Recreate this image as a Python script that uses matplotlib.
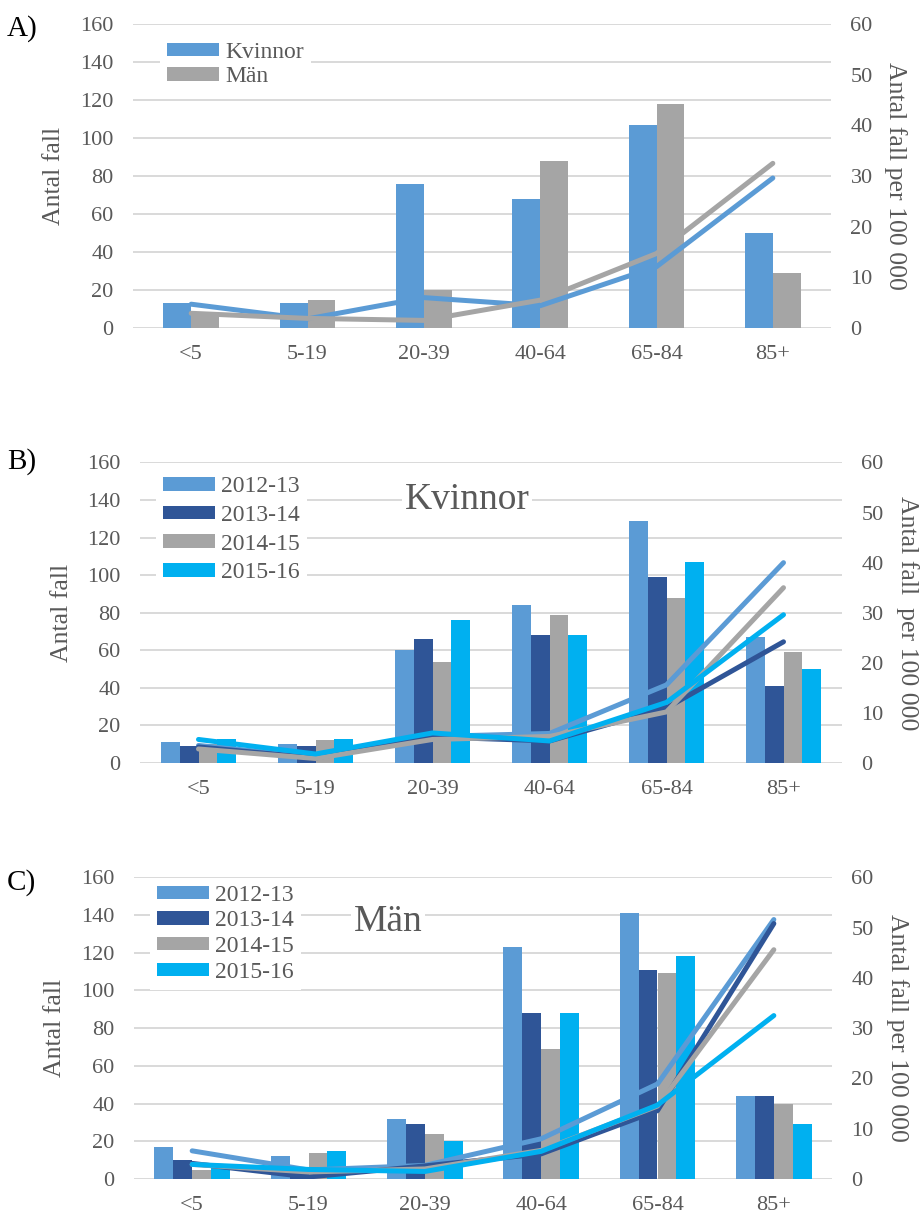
import numpy as np
import matplotlib
matplotlib.use('Agg')
import matplotlib.pyplot as plt
from matplotlib.patches import Patch

plt.rcParams['font.family'] = ['Liberation Serif', 'DejaVu Serif']

# Data
aldersgrupper = ['<5', '5-19', '20-39', '40-64', '65-84', '85+']
ar = ['2012-13', '2013-14', '2014-15', '2015-16']

# A) alla år, kvinnor och män
kvinnor_fall = [13, 13, 76, 68, 107, 50]
man_fall = [7, 15, 20, 88, 118, 29]
kvinnor_inc = [4.7, 1.8, 6.0, 4.4, 12.1, 29.6]
man_inc = [2.9, 1.9, 1.5, 5.5, 14.7, 32.5]

# B) kvinnor per säsong
kv_fall_2012 = [11, 10, 60, 84, 129, 67]
kv_fall_2013 = [9, 9, 66, 68, 99, 41]
kv_fall_2014 = [10, 12, 54, 79, 88, 59]
kv_fall_2015 = [13, 13, 76, 68, 107, 50]
kv_inc_2012 = [3.5, 1.2, 5.3, 5.9, 15.6, 40.0]
kv_inc_2013 = [3.2, 1.0, 5.2, 4.4, 11.0, 24.2]
kv_inc_2014 = [2.8, 0.9, 4.7, 5.3, 10.2, 35.0]
kv_inc_2015 = [4.7, 1.8, 6.0, 4.4, 12.1, 29.6]

# C) män per säsong
man_fall_2012 = [17, 12, 32, 123, 141, 44]
man_fall_2013 = [10, 5, 29, 88, 111, 44]
man_fall_2014 = [5, 14, 24, 69, 109, 40]
man_fall_2015 = [7, 15, 20, 88, 118, 29]
man_inc_2012 = [5.6, 1.8, 2.7, 8.0, 18.9, 51.6]
man_inc_2013 = [3.1, 0.4, 2.6, 5.0, 13.6, 50.8]
man_inc_2014 = [2.9, 1.4, 2.0, 5.7, 14.5, 45.6]
man_inc_2015 = [2.9, 1.9, 1.5, 5.5, 14.7, 32.5]

ljusbla = '#5b9bd5'
morkbla = '#2f5597'
gra = '#a5a5a5'
cyan = '#00b0f0'
textfarg = '#595959'
gridfarg = '#d9d9d9'

W, H = 921, 1217
fig = plt.figure(figsize=(W / 100, H / 100), dpi=100)


def rita_panel(rect, fall, inc, farger, namn, bredd, leg_pos, leg_space):
    ax = fig.add_axes(rect)
    x = np.arange(len(aldersgrupper))
    n = len(fall)
    for i in range(n):
        ax.bar(x + (i - (n - 1) / 2) * bredd, fall[i], width=bredd,
               color=farger[i], zorder=2)
    ax.set_xlim(-0.5, len(aldersgrupper) - 0.5)
    ax.set_ylim(0, 160)
    ax.set_yticks(np.arange(0, 161, 20))
    ax.set_xticks(x)
    ax.set_xticklabels(aldersgrupper)
    ax.yaxis.grid(True, color=gridfarg, lw=1.4, zorder=0)
    ax.set_axisbelow(True)
    for s in ax.spines.values():
        s.set_visible(False)
    ax.tick_params(axis='both', length=0, labelsize=16, labelcolor=textfarg)
    ax.tick_params(axis='y', pad=14)
    ax.tick_params(axis='x', pad=12)

    ax2 = ax.twinx()
    for i in range(n):
        ax2.plot(x, inc[i], color=farger[i], lw=3.6,
                 solid_capstyle='round', solid_joinstyle='round')
    ax2.set_ylim(0, 60)
    ax2.set_yticks(np.arange(0, 61, 10))
    for s in ax2.spines.values():
        s.set_visible(False)
    ax2.tick_params(axis='y', length=0, labelsize=16, labelcolor=textfarg, pad=14)

    handtag = [Patch(facecolor=farger[i], edgecolor='none') for i in range(n)]
    leg = ax2.legend(handtag, namn, loc='upper left', bbox_to_anchor=leg_pos,
                     frameon=True, framealpha=1, facecolor='white',
                     edgecolor='none', fancybox=False, fontsize=17,
                     handlelength=2.2, handleheight=0.5, handletextpad=0.25,
                     labelspacing=leg_space, borderpad=0.3, borderaxespad=0)
    for t in leg.get_texts():
        t.set_color(textfarg)
    return ax, ax2


# A)
axA, axA2 = rita_panel([133 / W, 1 - 328 / H, 698 / W, 304 / H],
                       [kvinnor_fall, man_fall], [kvinnor_inc, man_inc],
                       [ljusbla, gra], ['Kvinnor', 'Män'], 0.24,
                       (0.039, 0.965), 0.15)

# B)
axB, axB2 = rita_panel([140 / W, 1 - 763 / H, 702 / W, 300.5 / H],
                       [kv_fall_2012, kv_fall_2013, kv_fall_2014, kv_fall_2015],
                       [kv_inc_2012, kv_inc_2013, kv_inc_2014, kv_inc_2015],
                       [ljusbla, morkbla, gra, cyan], ar, 0.16,
                       (0.023, 0.977), 0.32)
axB2.text(0.466, 0.876, 'Kvinnor', transform=axB2.transAxes, fontsize=27,
          color=textfarg, ha='center', va='center',
          bbox=dict(facecolor='white', edgecolor='none', pad=2))

# C)
axC, axC2 = rita_panel([134 / W, 1 - 1179 / H, 698 / W, 301.7 / H],
                       [man_fall_2012, man_fall_2013, man_fall_2014, man_fall_2015],
                       [man_inc_2012, man_inc_2013, man_inc_2014, man_inc_2015],
                       [ljusbla, morkbla, gra, cyan], ar, 0.163,
                       (0.023, 0.999), 0.2)
axC2.text(0.364, 0.852, 'Män', transform=axC2.transAxes, fontsize=27,
          color=textfarg, ha='center', va='center',
          bbox=dict(facecolor='white', edgecolor='none', pad=2))

# Axeltitlar och panelbokstäver
for yc, xl, xr, hoger in [(176, 54, 895, 'Antal fall per 100 000'),
                          (613, 62, 907, 'Antal fall  per 100 000'),
                          (1028, 55, 897, 'Antal fall per 100 000')]:
    fig.text(xl / W, 1 - yc / H, 'Antal fall', rotation=90, fontsize=18.5,
             color=textfarg, ha='center', va='center')
    fig.text(xr / W, 1 - yc / H, hoger, rotation=270, fontsize=18.5,
             color=textfarg, ha='center', va='center')

for yc, bokstav in [(29, 'A)'), (462, 'B)'), (883, 'C)')]:
    fig.text(7 / W, 1 - yc / H, bokstav, fontsize=21, color='black',
             ha='left', va='center')

fig.savefig('out.png', dpi=100)
